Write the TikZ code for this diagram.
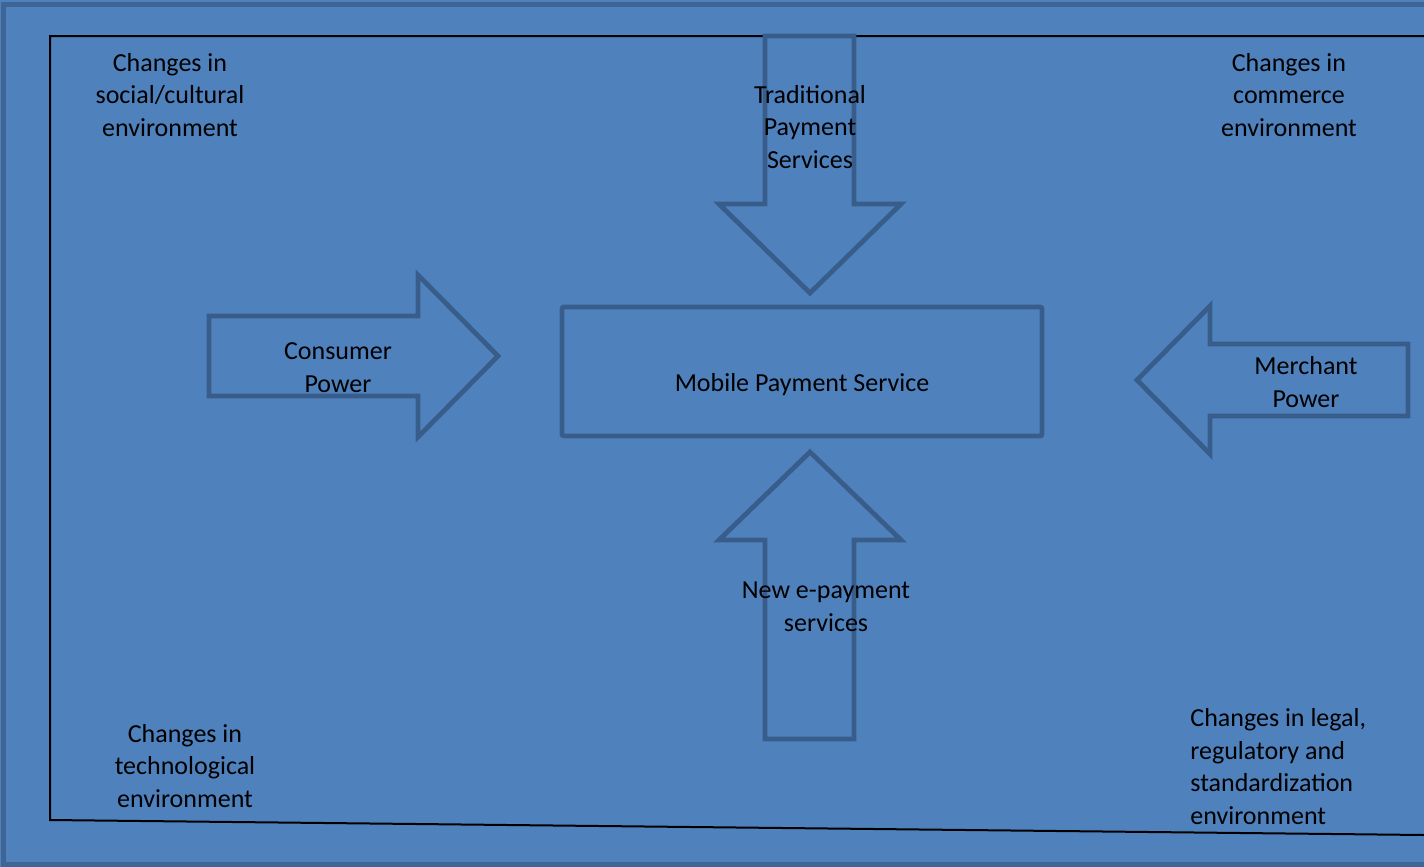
\documentclass[tikz,border=0pt]{standalone}
\usepackage{fontspec}
\setmainfont{Carlito}
\usetikzlibrary{positioning, calc}
\definecolor{cBg}{RGB}{79,129,189}
\definecolor{cEdge}{RGB}{56,93,138}
\definecolor{cFrame}{RGB}{63,101,150}

\begin{document}
\begin{tikzpicture}[x=0.5pt, y=-0.5pt,
    txt/.style={align=center, inner sep=0pt, anchor=base, font=\fontsize{13}{16.25}\selectfont},
    blockarrow/.style={draw=cEdge, line width=2.4pt, line join=miter}]
    \useasboundingbox (0,0) rectangle (1424,867);

    % Background
    \fill[cBg] (0,0) rectangle (1424,867);
    \draw[cFrame, line width=2.5pt] (3,4) rectangle (1440,864);

    % Environment frame
    \coordinate (envTR) at (1424,36);
    \coordinate (envTL) at (50,36);
    \coordinate (envBL) at (50,820);
    \coordinate (envBR) at (1424,835);
    \draw[line width=1pt] (envTR) -- (envTL) -- (envBL) -- (envBR);

    % Block arrows
    \draw[blockarrow] (765,36) -- (854,36) -- (854,204) -- (901,204) -- (810,293) -- (719,204) -- (765,204) -- cycle;
    \draw[blockarrow] (765,739) -- (854,739) -- (854,540) -- (901,540) -- (810,452) -- (719,540) -- (765,540) -- cycle;
    \draw[blockarrow] (209,316) -- (418,316) -- (418,275) -- (498,356) -- (418,437) -- (418,396) -- (209,396) -- cycle;
    \draw[blockarrow] (1408,344) -- (1210,344) -- (1210,306) -- (1137,380) -- (1210,454) -- (1210,416) -- (1408,416) -- cycle;

    % Mobile Payment Service
    \node[draw=cEdge, line width=2.4pt, rounded corners=1pt, minimum width=240pt, minimum height=64.5pt] (mps) at (802,371.5) {};
    \node[txt] (mpsText) at (802,391) {Mobile Payment Service};

    % Forces (base = last line)
    \node[txt] (trad) at (810,168) {Traditional\\Payment\\Services};
    \node[txt] (newpay) at (826,631) {New e-payment\\services};
    \node[txt] (consumer) at (338,392) {Consumer\\Power};
    \node[txt] (merchant) at (1306,407) {Merchant\\Power};

    % Environment
    \node[txt] (social) at (170,136) {Changes in\\social/cultural\\environment};
    \node[txt] (commerce) at (1289,136) {Changes in\\commerce\\environment};
    \node[txt] (tech) at (185,807) {Changes in\\technological\\environment};
    \node[txt, align=left, anchor=base west] (legal) at (1190,824) {Changes in legal,\\regulatory and\\standardization\\environment};
\end{tikzpicture}
\end{document}
